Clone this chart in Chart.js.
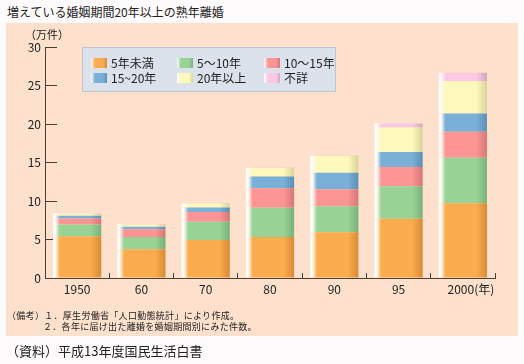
<!DOCTYPE html>
<html lang="ja">
<head>
<meta charset="utf-8">
<script src="https://cdn.jsdelivr.net/npm/chart.js@4.4.1/dist/chart.umd.min.js"></script>
<style>
  html, body { margin:0; padding:0; }
  body { width:524px; height:364px; background:#fdfbfb; position:relative; overflow:hidden;
         font-family:"Noto Sans CJK JP","Noto Sans",sans-serif; color:#222; }
  #panel { position:absolute; left:6px; top:23px; width:512px; height:313px; background:#fde1cc; }
  #title { position:absolute; left:7px; top:5px; font-size:12px; line-height:14px; white-space:nowrap; }
  #unit { position:absolute; left:25px; top:27px; font-size:11px; line-height:14px; white-space:nowrap; }
  #wrap { position:absolute; left:0; top:0; width:524px; height:364px; }
  #legend { position:absolute; left:82px; top:47px; width:252px; height:43px; background:#dce2ec;
            border:1px solid #bfc4cf; }
  .li { position:absolute; font-size:12px; line-height:14px; white-space:nowrap; }
  .sw { position:absolute; width:16px; height:10px; }
  .note { position:absolute; font-size:9px; line-height:11px; white-space:nowrap; letter-spacing:0.3px; }
  #src { position:absolute; left:6px; top:343px; font-size:13px; line-height:16px; white-space:nowrap; }
</style>
</head>
<body>
<div id="panel"></div>
<div id="title">増えている婚姻期間20年以上の熟年離婚</div>
<div id="wrap"><canvas id="c" width="524" height="364"></canvas></div>
<div id="unit">（万件）</div>
<div id="legend"></div>
<div class="note" style="left:7px;top:310px;">（備考）１．厚生労働省「人口動態統計」により作成。</div>
<div class="note" style="left:43px;top:321px;">２．各年に届け出た離婚を婚姻期間別にみた件数。</div>
<div id="src">（資料）平成13年度国民生活白書</div>
<script>
// ---- data (万件) ----
const categories = ["1950", "60", "70", "80", "90", "95", "2000(年)"];
const seriesNames = ["5年未満", "5～10年", "10～15年", "15~20年", "20年以上", "不詳"];
const under5   = [5.42, 3.73, 4.94, 5.33, 5.95, 7.69, 9.70];
const y5to10   = [1.53, 1.61, 2.35, 3.79, 3.36, 4.21, 5.92];
const y10to15  = [0.78, 1.00, 1.27, 2.54, 2.22, 2.51, 3.36];
const y15to20  = [0.34, 0.30, 0.61, 1.52, 2.13, 1.96, 2.39];
const over20   = [0.30, 0.31, 0.52, 1.10, 2.18, 3.18, 4.22];
const unknown  = [0.08, 0.05, 0.05, 0.05, 0.05, 0.52, 1.05];
const yTicks = [0, 5, 10, 15, 20, 25, 30];

const seriesValues = [under5, y5to10, y10to15, y15to20, over20, unknown];
const seriesColors = ["#fbac4f", "#98d395", "#fd9595", "#7ab0d7", "#fdf8bb", "#fcc9e4"];
const seriesShades = ["#d98a38", "#79b277", "#d67676", "#5d8fb5", "#d8d39a", "#d4a6bf"];

const BAR_PCT = 0.75;
function barGradient(i) {
  return function(ctx) {
    const chart = ctx.chart;
    const xs = chart.scales && chart.scales.x;
    if (!xs || ctx.dataIndex == null || !chart.chartArea) return seriesColors[i];
    const cx = xs.getPixelForValue(ctx.dataIndex);
    const w = (xs.width / categories.length) * BAR_PCT;
    const g = chart.ctx.createLinearGradient(cx - w / 2, 0, cx + w / 2, 0);
    g.addColorStop(0, "#ffffff");
    g.addColorStop(0.05, "#fffaf2");
    g.addColorStop(0.14, seriesColors[i]);
    g.addColorStop(0.78, seriesColors[i]);
    g.addColorStop(1, seriesShades[i]);
    return g;
  };
}

// HTML legend built from the series
const legend = document.getElementById("legend");
const colX = [8, 94, 181];
const rowY = [10, 25];
seriesNames.forEach((name, i) => {
  const c = i % 3, r = Math.floor(i / 3);
  const sw = document.createElement("div");
  sw.className = "sw";
  sw.style.left = colX[c] + "px";
  sw.style.top = rowY[r] + "px";
  sw.style.background = "linear-gradient(to right,#ffffff 0%," + seriesColors[i] + " 25%," + seriesColors[i] + " 75%," + seriesShades[i] + " 100%)";
  legend.appendChild(sw);
  const t = document.createElement("div");
  t.className = "li";
  t.style.left = (colX[c] + 20) + "px";
  t.style.top = (rowY[r] - 2) + "px";
  t.textContent = name;
  legend.appendChild(t);
});

const axisColor = "#4a3e35";
new Chart(document.getElementById("c"), {
  type: "bar",
  data: {
    labels: categories,
    datasets: seriesNames.map((name, i) => ({
      label: name,
      data: seriesValues[i],
      backgroundColor: barGradient(i),
      borderWidth: 0,
      barPercentage: BAR_PCT,
      categoryPercentage: 1.0
    }))
  },
  options: {
    responsive: false,
    animation: false,
    devicePixelRatio: 1,
    layout: { padding: { left: 0, top: 47, right: 29, bottom: 56 } },
    plugins: { legend: { display: false }, tooltip: { enabled: false } },
    scales: {
      x: {
        stacked: true,
        offset: true,
        afterFit: s => { s.height = 30; },
        grid: { drawOnChartArea: false, tickLength: -5, color: axisColor, tickColor: axisColor, lineWidth: 1 },
        border: { color: axisColor, width: 1 },
        ticks: {
          padding: 9,
          color: "#222",
          font: { family: "Noto Sans CJK JP", size: 12 },
          maxRotation: 0,
          autoSkip: false,
          callback: function(v, idx) {
            const lab = categories[idx];
            return idx === categories.length - 1 ? "      " + lab : lab;
          }
        }
      },
      y: {
        stacked: true,
        min: 0,
        max: 30,
        afterFit: s => { s.width = 45; },
        afterBuildTicks: s => { s.ticks = yTicks.map(v => ({ value: v })); },
        grid: { drawOnChartArea: false, tickLength: -12, color: axisColor, tickColor: axisColor, lineWidth: 1 },
        border: { color: axisColor, width: 1 },
        ticks: {
          padding: 16,
          color: "#222",
          font: { family: "Noto Sans CJK JP", size: 12 }
        }
      }
    }
  }
});
</script>
</body>
</html>
